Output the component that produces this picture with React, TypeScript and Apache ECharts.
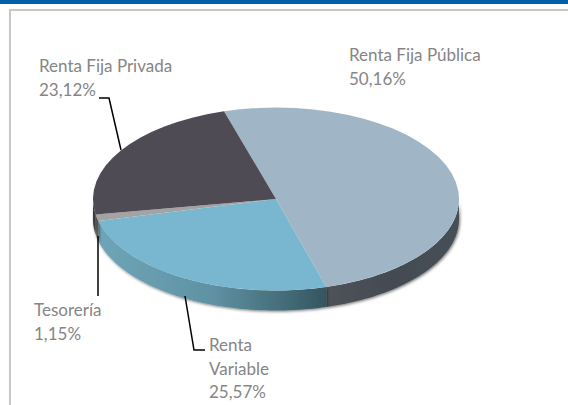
import React, { useEffect, useRef } from "react";
import * as echarts from "echarts";

const categories = ["Renta Fija Pública", "Renta Variable", "Tesorería", "Renta Fija Privada"];
const labelTexts = ["Renta Fija Pública", "Renta\nVariable", "Tesorería", "Renta Fija Privada"];
const shares = [50.16, 25.57, 1.15, 23.12];
const topColors = ["#a0b6c6", "#78b7cf", "#a3a3a5", "#4f4b55"];
const wallStops: string[][] = [
  ["#50525a", "#434b52", "#474f56"],
  ["#6fa5b8", "#5f92a3", "#345660"],
  ["#7a7a7a", "#6a6a6a", "#5a5a5a"],
  ["#3b383f", "#3b383f", "#3b383f"],
];
const labelSpots = [
  { x: 349, y: 43 },
  { x: 209, y: 333 },
  { x: 34, y: 298 },
  { x: 39, y: 54 },
];
const leaders = [
  null,
  [[185, 296], [194, 350], [205, 350]],
  [[98, 236], [98, 296]],
  [[99, 98], [109, 98], [121, 150]],
];

const CX = 276;
const CY = 199;
const RX = 183;
const RY = 91.5;
const DEPTH = 20;
const START = -16.5;

const total = shares.reduce((s, v) => s + v, 0);
const from = (i: number) => START + (shares.slice(0, i).reduce((s, v) => s + v, 0) / total) * 360;
const fmt = (v: number) => v.toFixed(2).replace(".", ",") + "%";

function wallItem(params: any, api: any) {
  const i = params.dataIndex;
  const a0 = Math.max(from(i), 90);
  const a1 = Math.min(from(i) + (api.value(0) / total) * 360, 270);
  if (a1 <= a0) return { type: "group", children: [] };
  const top: number[][] = [];
  const bottom: number[][] = [];
  const n = Math.ceil((a1 - a0) / 1.5);
  for (let k = 0; k <= n; k++) {
    const t = ((a0 + ((a1 - a0) * k) / n) * Math.PI) / 180;
    const x = CX + RX * Math.sin(t);
    const y = CY - RY * Math.cos(t);
    top.push([x, y]);
    bottom.unshift([x, y + DEPTH]);
  }
  const stops = wallStops[i];
  return {
    type: "polygon",
    silent: true,
    shape: { points: top.concat(bottom) },
    style: {
      fill: {
        type: "linear", x: 0, y: 0, x2: 1, y2: 0,
        colorStops: [
          { offset: 0, color: stops[0] },
          { offset: 0.5, color: stops[1] },
          { offset: 1, color: stops[2] },
        ],
      },
      shadowBlur: 3,
      shadowColor: "rgba(0,0,0,0.55)",
      shadowOffsetX: 1,
      shadowOffsetY: 1,
    },
  };
}

function topItem(params: any, api: any) {
  const i = params.dataIndex;
  const a0 = from(i);
  const a1 = a0 + (api.value(0) / total) * 360;
  const children: any[] = [
    {
      type: "group",
      x: CX,
      y: CY,
      scaleY: RY / RX,
      children: [
        {
          type: "sector",
          silent: true,
          shape: {
            cx: 0, cy: 0, r0: 0, r: RX,
            startAngle: ((a0 - 90) * Math.PI) / 180,
            endAngle: ((a1 - 90) * Math.PI) / 180,
            clockwise: true,
          },
          style: { fill: topColors[i] },
        },
      ],
    },
    {
      type: "text",
      silent: true,
      x: labelSpots[i].x,
      y: labelSpots[i].y,
      style: {
        text: labelTexts[i] + "\n" + fmt(api.value(0)),
        fill: "#858585",
        font: '17px Lato',
        lineHeight: 23.5,
        textAlign: "left",
        textVerticalAlign: "top",
      },
    },
  ];
  const pts = leaders[i];
  if (pts) {
    children.push({
      type: "polyline",
      silent: true,
      shape: { points: pts },
      style: { stroke: "#000", lineWidth: 1.5, fill: "none" },
    });
  }
  return { type: "group", children };
}

export default function App() {
  const ref = useRef<HTMLDivElement>(null);
  useEffect(() => {
    const chart = echarts.init(ref.current!, null, { renderer: "svg" });
    const data = categories.map((name, i) => ({ name, value: [shares[i]] }));
    chart.setOption({
      animation: false,
      backgroundColor: "#ffffff",
      graphic: [
        { type: "rect", silent: true, z: 0, shape: { x: 0, y: 0, width: 568, height: 4 }, style: { fill: "#0060a9" } },
        { type: "rect", silent: true, z: 0, shape: { x: 9, y: 9, width: 559, height: 2 }, style: { fill: "#c8c8c8" } },
        { type: "rect", silent: true, z: 0, shape: { x: 9, y: 9, width: 2, height: 396 }, style: { fill: "#c8c8c8" } },
      ],
      series: [
        { type: "custom", coordinateSystem: "none", z: 2, renderItem: wallItem, data },
        { type: "custom", coordinateSystem: "none", z: 3, renderItem: topItem, data },
      ],
    });
    return () => chart.dispose();
  }, []);
  return <div ref={ref} style={{ position: "fixed", left: 0, top: 0, width: 568, height: 405 }} />;
}
